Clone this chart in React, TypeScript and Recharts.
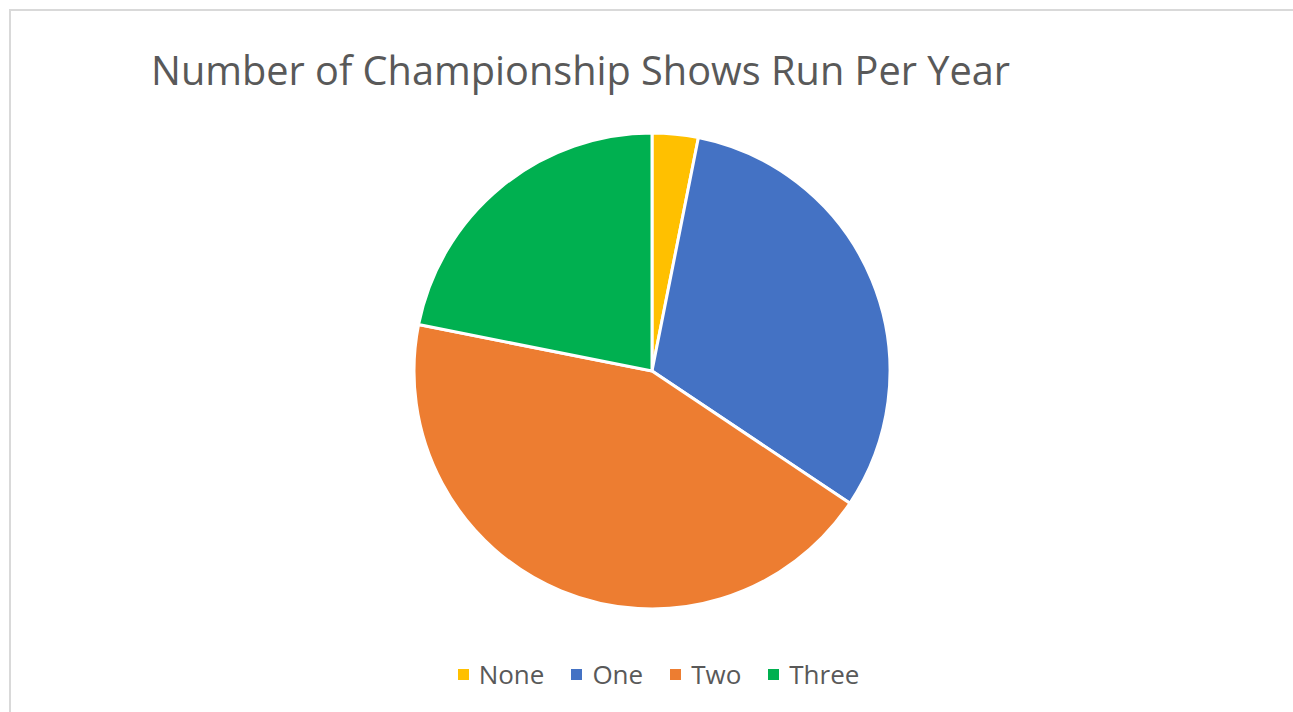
import { PieChart, Pie, Cell, Legend } from "recharts";

const categories = ["None", "One", "Two", "Three"];
const shows = [1, 10, 14, 7];
const colors = ["#FFC000", "#4472C4", "#ED7D31", "#00B050"];

const data = categories.map((name, i) => ({ name, value: shows[i] }));

const FONT = "'Open Sans', 'Noto Sans', sans-serif";

const LegendContent = () => (
  <div
    style={{
      display: "flex",
      justifyContent: "center",
      alignItems: "center",
      gap: 27,
      fontSize: 26,
      fontFamily: FONT,
      color: "#595959",
    }}
  >
    {categories.map((c, i) => (
      <div key={c} style={{ display: "flex", alignItems: "center", gap: 10 }}>
        <span style={{ width: 11, height: 11, background: colors[i], display: "inline-block" }} />
        <span>{c}</span>
      </div>
    ))}
  </div>
);

export default function App() {
  return (
    <div
      style={{
        position: "absolute",
        left: 0,
        top: 0,
        width: 1293,
        height: 712,
        overflow: "hidden",
        background: "#fff",
        fontFamily: FONT,
      }}
    >
      <div
        style={{
          position: "absolute",
          left: 9,
          top: 9,
          width: 1320,
          height: 740,
          border: "2px solid #d9d9d9",
        }}
      />
      <div
        style={{
          position: "absolute",
          left: 151,
          top: 43,
          fontSize: 39.7,
          color: "#595959",
          whiteSpace: "nowrap",
        }}
      >
        Number of Championship Shows Run Per Year
      </div>
      <div style={{ position: "absolute", left: 0, top: 0 }}>
        <PieChart width={1293} height={712} margin={{ top: 0, right: 0, bottom: 0, left: 0 }}>
          <Pie
            data={data}
            dataKey="value"
            nameKey="name"
            cx={652}
            cy={371}
            outerRadius={238}
            startAngle={90}
            endAngle={-270}
            stroke="#fff"
            strokeWidth={3}
            isAnimationActive={false}
          >
            {data.map((d, i) => (
              <Cell key={d.name} fill={colors[i]} />
            ))}
          </Pie>
          <Legend
            verticalAlign="bottom"
            wrapperStyle={{ bottom: 20, left: 6, width: 1305 }}
            content={<LegendContent />}
          />
        </PieChart>
      </div>
    </div>
  );
}
